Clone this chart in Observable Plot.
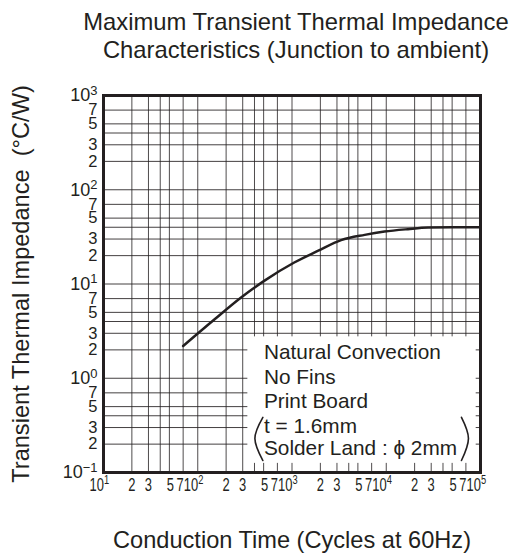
<!DOCTYPE html>
<html><head><meta charset="utf-8">
<script src="https://cdn.jsdelivr.net/npm/d3@7"></script>
<script src="https://cdn.jsdelivr.net/npm/@observablehq/plot@0.6"></script>
<style>
body{margin:0;background:#fff;font-family:"Liberation Sans",Arial,sans-serif;color:#231f20;}
#title{position:relative;width:520px;height:70px;font-size:23.8px;}
#title div{position:absolute;left:72px;right:0;text-align:center;white-space:nowrap;line-height:26px;}
#chart svg{display:block;}
</style></head><body>
<div id="title"><div style="top:9px">Maximum Transient Thermal Impedance</div><div style="top:37px">Characteristics (Junction to ambient)</div></div>
<div id="chart"></div>
<script>
// Curve: conduction time (cycles) vs transient thermal impedance (°C/W)
const curveTime = [70, 150, 286, 507, 1057, 1875, 3320, 5900, 9590, 17000, 27800, 50000, 100000];
const curveZth  = [2.2, 4.2, 7.15, 10.8, 16.9, 22.4, 29.2, 33.2, 36, 38.2, 39.7, 40, 40];

// Grid lines
const xGrid = [10,20,30,40,50,70,100,200,300,400,500,700,1000,2000,3000,4000,5000,7000,10000,20000,30000,40000,50000,70000,100000];
const yGrid = [0.1,0.2,0.3,0.4,0.5,0.7,1,2,3,4,5,7,10,20,30,40,50,70,100,200,300,400,500,700,1000];

// Tick labels
const xTickValues = [10,20,30,50,70,100,200,300,500,700,1000,2000,3000,5000,7000,10000,20000,30000,50000,70000,100000];
const xTickLabels = ["10^1","2","3","5","7","10^2","2","3","5","7","10^3","2","3","5","7","10^4","2","3","5","7","10^5"];
const yTickValues = [0.1,0.2,0.3,0.5,0.7,1,2,3,5,7,10,20,30,50,70,100,200,300,500,700,1000];
const yTickLabels = ["10^\u22121","2","3","5","7","10^0","2","3","5","7","10^1","2","3","5","7","10^2","2","3","5","7","10^3"];

// Legend annotation
const legendLabels = ["Natural Convection","No Fins","Print Board","t = 1.6mm","Solder Land : \u03d5 2mm"];
const legendBaselines = [1.59, 0.863, 0.48, 0.26, 0.155];
const legendX = 504;
const legendBox = {x1: 340, x2: 90000, y1: 0.125, y2: 2.75};
const parenLeft = [{x: 491, y: 0.385}, {x: 404, y: 0.23}, {x: 491, y: 0.134}];
const parenRight = [{x: 62800, y: 0.385}, {x: 74500, y: 0.23}, {x: 62800, y: 0.134}];

const curveData = curveTime.map((t, i) => ({x: t, y: curveZth[i]}));
const xTicks = xTickValues.map((v, i) => ({v, t: xTickLabels[i]}));
const yTicks = yTickValues.map((v, i) => ({v, t: yTickLabels[i]}));
const legendLines = legendLabels.map((label, i) => ({label, y: legendBaselines[i]}));
const ink = "#231f20";
const XTICK_SIZE = 17.5;
const xTickStyle = {x: "v", text: "t", frameAnchor: "bottom", lineAnchor: "bottom", dy: 18, fontSize: XTICK_SIZE, fill: ink};
const yTickStyle = {y: "v", text: "t", frameAnchor: "left", lineAnchor: "middle", dx: -6, textAnchor: "end", fill: ink};

const plot = Plot.plot({
  width: 520, height: 484,
  marginLeft: 103, marginRight: 40, marginTop: 25, marginBottom: 82,
  x: {type: "log", domain: [10, 1e5], axis: null},
  y: {type: "log", domain: [0.1, 1000], axis: null},
  style: {fontFamily: "'Liberation Sans', Arial, sans-serif", background: "white", color: ink},
  marks: [
    Plot.ruleX(xGrid, {stroke: ink, strokeWidth: 1, strokeOpacity: 0.8}),
    Plot.ruleY(yGrid, {stroke: ink, strokeWidth: 1, strokeOpacity: 0.85}),
    Plot.rect([legendBox], {x1: "x1", x2: "x2", y1: "y1", y2: "y2", fill: "white"}),
    Plot.text(legendLines, {x: () => legendX, y: "y", text: "label", textAnchor: "start", lineAnchor: "bottom", fontSize: 20.8, fill: ink}),
    Plot.line(parenLeft, {x: "x", y: "y", curve: "natural", stroke: ink, strokeWidth: 1.6}),
    Plot.line(parenRight, {x: "x", y: "y", curve: "natural", stroke: ink, strokeWidth: 1.6}),
    Plot.line(curveData, {x: "x", y: "y", curve: "monotone-x", stroke: ink, strokeWidth: 2.5}),
    Plot.frame({stroke: ink, strokeWidth: 3}),
    Plot.text(xTicks.filter(d => ["2", "3"].includes(d.t)), {...xTickStyle, textAnchor: "middle"}),
    Plot.text(xTicks.filter(d => d.t === "5"), {...xTickStyle, textAnchor: "middle", dx: 1}),
    Plot.text(xTicks.filter(d => d.t === "7"), {...xTickStyle, textAnchor: "middle", dx: -3}),
    Plot.text(xTicks.filter(d => d.t.includes("^")), {...xTickStyle, dx: -14, textAnchor: "start"}),
    Plot.text(yTicks.filter(d => d.t.includes("^")), {...yTickStyle, fontSize: 18}),
    Plot.text(yTicks.filter(d => !d.t.includes("^")), {...yTickStyle, fontSize: 16.5}),
    Plot.text(["Conduction Time (Cycles at 60Hz)"], {text: d => d, frameAnchor: "bottom", dy: 75, lineAnchor: "bottom", textAnchor: "middle", fontSize: 23.6, fill: ink}),
    Plot.text(["Transient Thermal Impedance\u00a0 (\u00b0C/W)"], {text: d => d, frameAnchor: "left", rotate: -90, dx: -75, lineAnchor: "bottom", textAnchor: "middle", fontSize: 23.6, fill: ink})
  ]
});

// superscript exponents
const NS = "http://www.w3.org/2000/svg";
plot.querySelectorAll("text").forEach(t => {
  if (t.children.length) return;
  const m = t.textContent.match(/^(\d+)\^(.+)$/);
  if (m) {
    t.textContent = m[1];
    const ts = document.createElementNS(NS, "tspan");
    ts.setAttribute("dy", "-0.5em");
    ts.setAttribute("font-size", "0.72em");
    ts.textContent = m[2];
    t.appendChild(ts);
  }
});
// condensed x tick labels
plot.querySelectorAll(`g[font-size="${XTICK_SIZE}"] text`).forEach(t => {
  const tr = t.getAttribute("transform") || "";
  t.setAttribute("transform", tr + " scale(0.74,1)");
});
document.getElementById("chart").appendChild(plot);
</script>
</body></html>
